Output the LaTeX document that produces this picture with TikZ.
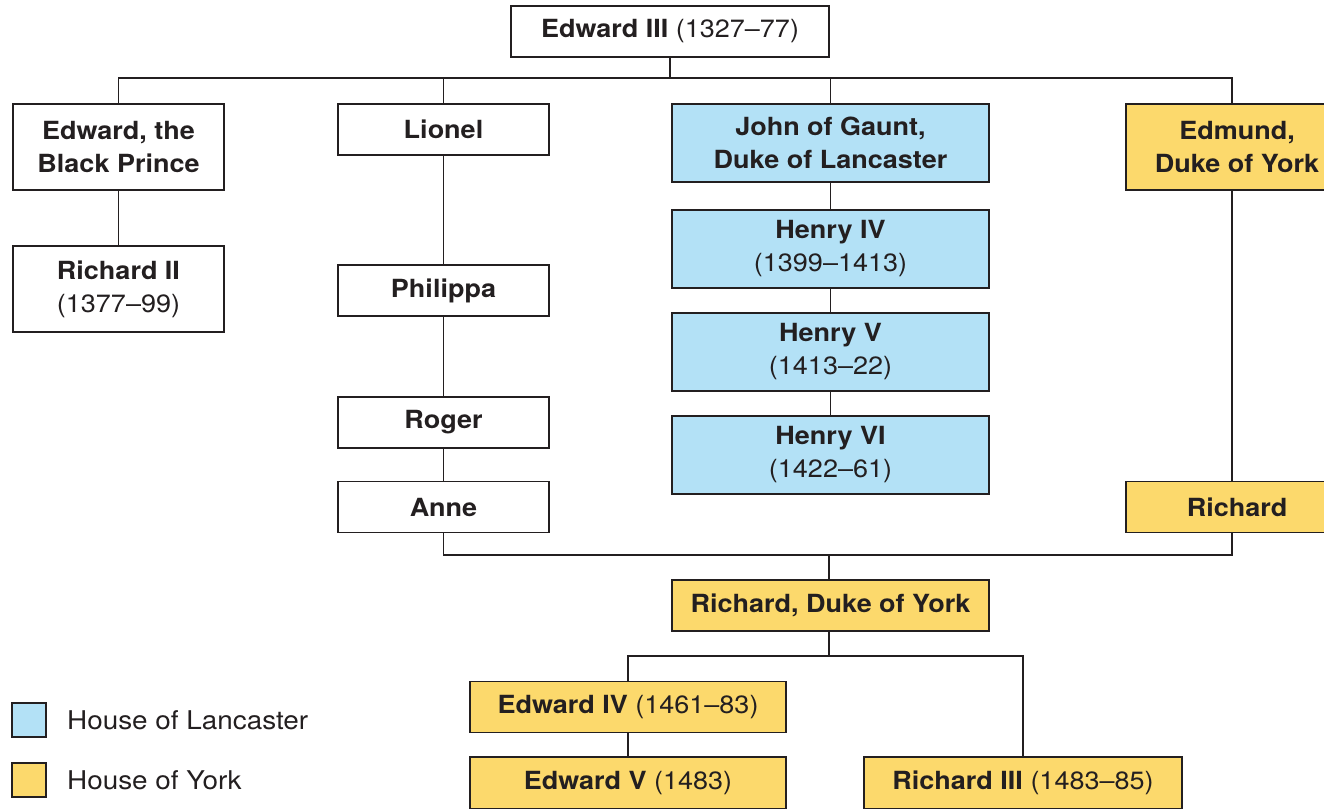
\documentclass[tikz,border=0pt]{standalone}
\usepackage{fontspec}
\setmainfont[FakeStretch=1.08]{TeX Gyre Heros}
\definecolor{lanc}{HTML}{B3E1F6}
\definecolor{york}{HTML}{FCD96C}
\definecolor{ink}{HTML}{231F20}
\begin{document}
\begin{tikzpicture}[x=1pt,y=-1pt,
  person/.style={draw=ink, line width=1.6pt, fill=white, inner sep=0pt, align=center,
    text=ink, font=\fontsize{25}{33}\selectfont},
  lbox/.style={person, fill=lanc},
  ybox/.style={person, fill=york},
  link/.style={draw=ink, line width=1.6pt},
  legtext/.style={anchor=west, inner sep=0pt, text=ink, font=\fontsize{25.8}{30}\selectfont}]
\useasboundingbox (0,0) rectangle (1324,808);
\clip (0,0) rectangle (1324,808);
% nodes
\node[person, minimum width=318pt, minimum height=51pt] (e3) at (670,31.5) {\textbf{Edward III} (1327–77)};
\node[person, minimum width=211pt, minimum height=86pt] (bp) at (118.5,147) {\textbf{Edward, the}\\\textbf{Black Prince}};
\node[person, minimum width=211pt, minimum height=51pt] (lionel) at (443.5,129.5) {\textbf{Lionel}};
\node[lbox, minimum width=317pt, minimum height=78pt] (gaunt) at (830.5,143) {\textbf{John of Gaunt,}\\\textbf{Duke of Lancaster}};
\node[ybox, minimum width=222pt, minimum height=86pt] (edmund) at (1237,147) {\textbf{Edmund,}\\\textbf{Duke of York}};
\node[person, minimum width=211pt, minimum height=86pt] (r2) at (118.5,289) {\textbf{Richard II}\\(1377–99)};
\node[person, minimum width=211pt, minimum height=51pt] (philippa) at (443.5,290.5) {\textbf{Philippa}};
\node[person, minimum width=211pt, minimum height=51pt] (roger) at (443.5,422.5) {\textbf{Roger}};
\node[person, minimum width=211pt, minimum height=51pt] (anne) at (443.5,507) {\textbf{Anne}};
\node[lbox, minimum width=317pt, minimum height=78pt] (h4) at (830.5,249) {\textbf{Henry IV}\\(1399–1413)};
\node[lbox, minimum width=317pt, minimum height=78pt] (h5) at (830.5,352) {\textbf{Henry V}\\(1413–22)};
\node[lbox, minimum width=317pt, minimum height=78pt] (h6) at (830.5,455) {\textbf{Henry VI}\\(1422–61)};
\node[ybox, minimum width=222pt, minimum height=51pt] (richard) at (1237,507) {\textbf{Richard}};
\node[ybox, minimum width=317pt, minimum height=51pt] (rdy) at (830.5,605.5) {\textbf{Richard, Duke of York}};
\node[ybox, minimum width=316pt, minimum height=51pt] (e4) at (628,707) {\textbf{Edward IV} (1461–83)};
\node[ybox, minimum width=316pt, minimum height=52pt] (e5) at (628,783) {\textbf{Edward V} (1483)};
\node[ybox, minimum width=318pt, minimum height=52pt] (r3) at (1023,783) {\textbf{Richard III} (1483–85)};
% legend
\node[lbox, minimum width=34pt, minimum height=34pt] (kl) at (29,720) {};
\node[ybox, minimum width=34pt, minimum height=34pt] (ky) at (29,780) {};
\node[legtext] (tl) at (67,720) {House of Lancaster};
\node[legtext] (ty) at (67,780) {House of York};
% connectors
\coordinate (top) at (670,78);
\coordinate (ed) at ([xshift=-5pt]edmund.north);
\draw[link] (e3.south) -- (top);
\draw[link] (bp.north) |- (top) -| (ed);
\draw[link] (lionel.north) -- (lionel.north |- top);
\draw[link] (gaunt.north) -- (gaunt.north |- top);
\draw[link] (bp) -- (r2);
\draw[link] (lionel) -- (philippa);
\draw[link] (philippa) -- (roger);
\draw[link] (roger) -- (anne);
\draw[link] (gaunt) -- (h4);
\draw[link] (h4) -- (h5);
\draw[link] (h5) -- (h6);
\draw[link] (edmund.south -| ed) -- (richard.north -| ed);
\coordinate (mid) at (829,555);
\draw[link] (anne.south) |- (mid) -| ([xshift=-5pt]richard.south);
\draw[link] (mid) -- (rdy.north -| mid);
\coordinate (low) at (829,656);
\draw[link] (rdy.south -| low) -- (low);
\draw[link] (e4.north) |- (low) -| (r3.north);
\draw[link] (e4) -- (e5);
\end{tikzpicture}
\end{document}
